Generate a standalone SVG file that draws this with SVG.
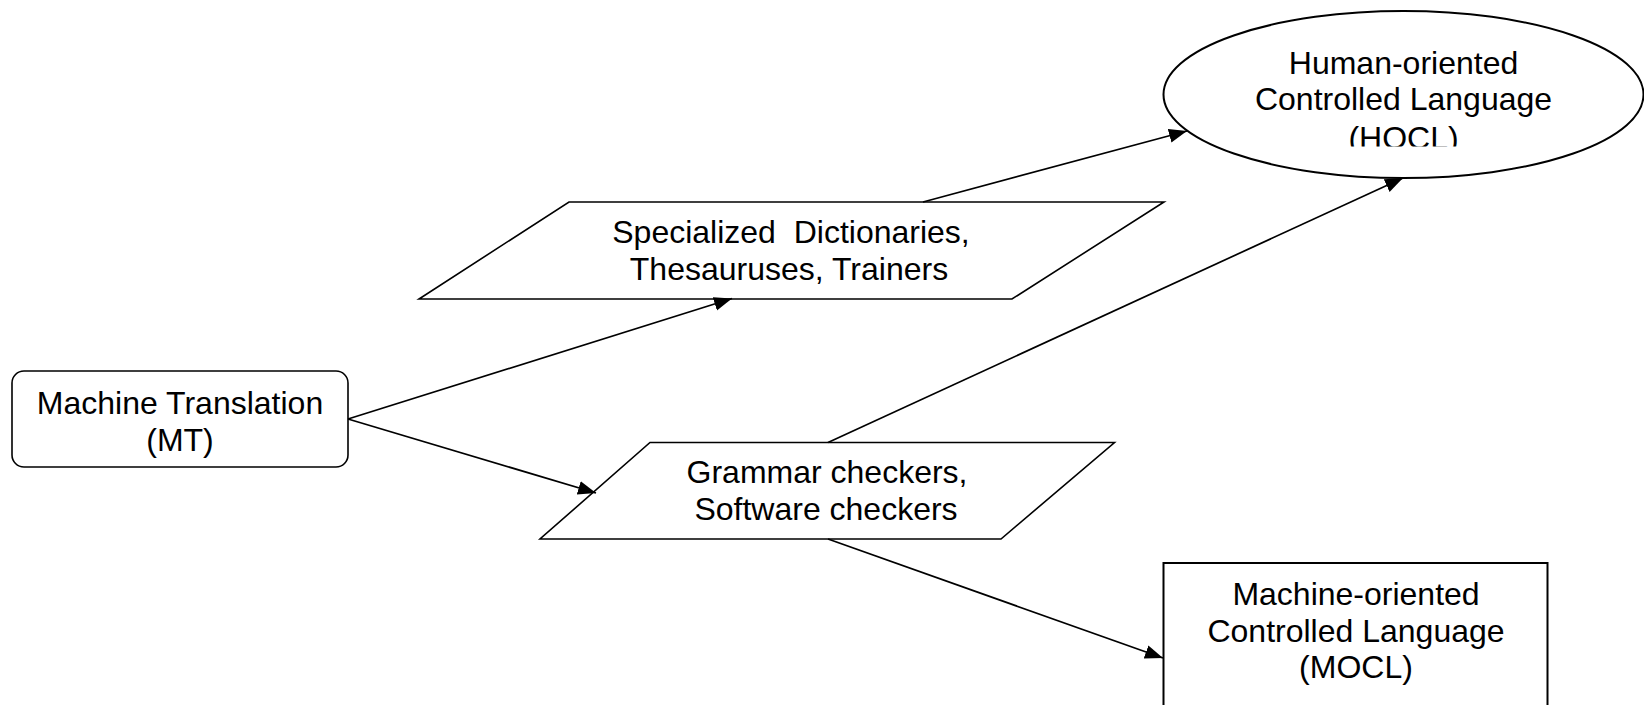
<svg xmlns="http://www.w3.org/2000/svg" width="1644" height="705" viewBox="0 0 1644 705">
  <style>
    .shape { fill: #ffffff; stroke: #000000; stroke-width: 1.6; }
    .label { font-family: "Liberation Sans", Arial, sans-serif; font-size: 32px; fill: #000000; text-anchor: middle; }
    .edge { fill: none; stroke: #000000; stroke-width: 1.7; marker-end: url(#arrow); }
  </style>
  <defs>
    <marker id="arrow" markerUnits="userSpaceOnUse" markerWidth="19" markerHeight="15" refX="18" refY="7" orient="auto">
      <path d="M0,0 L18,7 L0,14 z" fill="#000000"/>
    </marker>
    <clipPath id="hoclClip">
      <rect x="1160" y="0" width="484" height="146.5"/>
    </clipPath>
  </defs>
  <rect width="1644" height="705" fill="#ffffff"/>

  <g id="node-mt">
    <rect class="shape" x="12" y="371" width="336" height="96" rx="12" ry="12"/>
    <text class="label" x="180" y="414">Machine Translation</text>
    <text class="label" x="180" y="451">(MT)</text>
  </g>

  <g id="node-dictionaries">
    <polygon class="shape" points="569,202 1164,202 1012,299 419,299"/>
    <text class="label" x="791" y="243" xml:space="preserve">Specialized  Dictionaries,</text>
    <text class="label" x="789" y="280">Thesauruses, Trainers</text>
  </g>

  <g id="node-checkers">
    <polygon class="shape" points="650,442.5 1114.5,442.5 1001,539 540,539"/>
    <text class="label" x="827" y="483">Grammar checkers,</text>
    <text class="label" x="826" y="520">Software checkers</text>
  </g>

  <g id="node-hocl">
    <ellipse class="shape" cx="1403.5" cy="94.5" rx="240" ry="83.5" style="stroke-width:2"/>
    <g clip-path="url(#hoclClip)">
      <text class="label" x="1403.5" y="74">Human-oriented</text>
      <text class="label" x="1403.5" y="110">Controlled Language</text>
      <text class="label" x="1403.5" y="149">(HOCL)</text>
    </g>
  </g>

  <g id="node-mocl">
    <rect class="shape" x="1163.5" y="563" width="384" height="160" style="stroke-width:2"/>
    <text class="label" x="1356" y="605">Machine-oriented</text>
    <text class="label" x="1356" y="642">Controlled Language</text>
    <text class="label" x="1356" y="678">(MOCL)</text>
  </g>

  <g id="connectors">
    <line class="edge" x1="348" y1="419" x2="732" y2="298.5"/>
    <line class="edge" x1="348" y1="419" x2="596" y2="493"/>
    <line class="edge" x1="923" y1="202" x2="1187" y2="131"/>
    <line class="edge" x1="828" y1="442.5" x2="1403" y2="178"/>
    <line class="edge" x1="828" y1="539" x2="1163" y2="658"/>
  </g>
</svg>
